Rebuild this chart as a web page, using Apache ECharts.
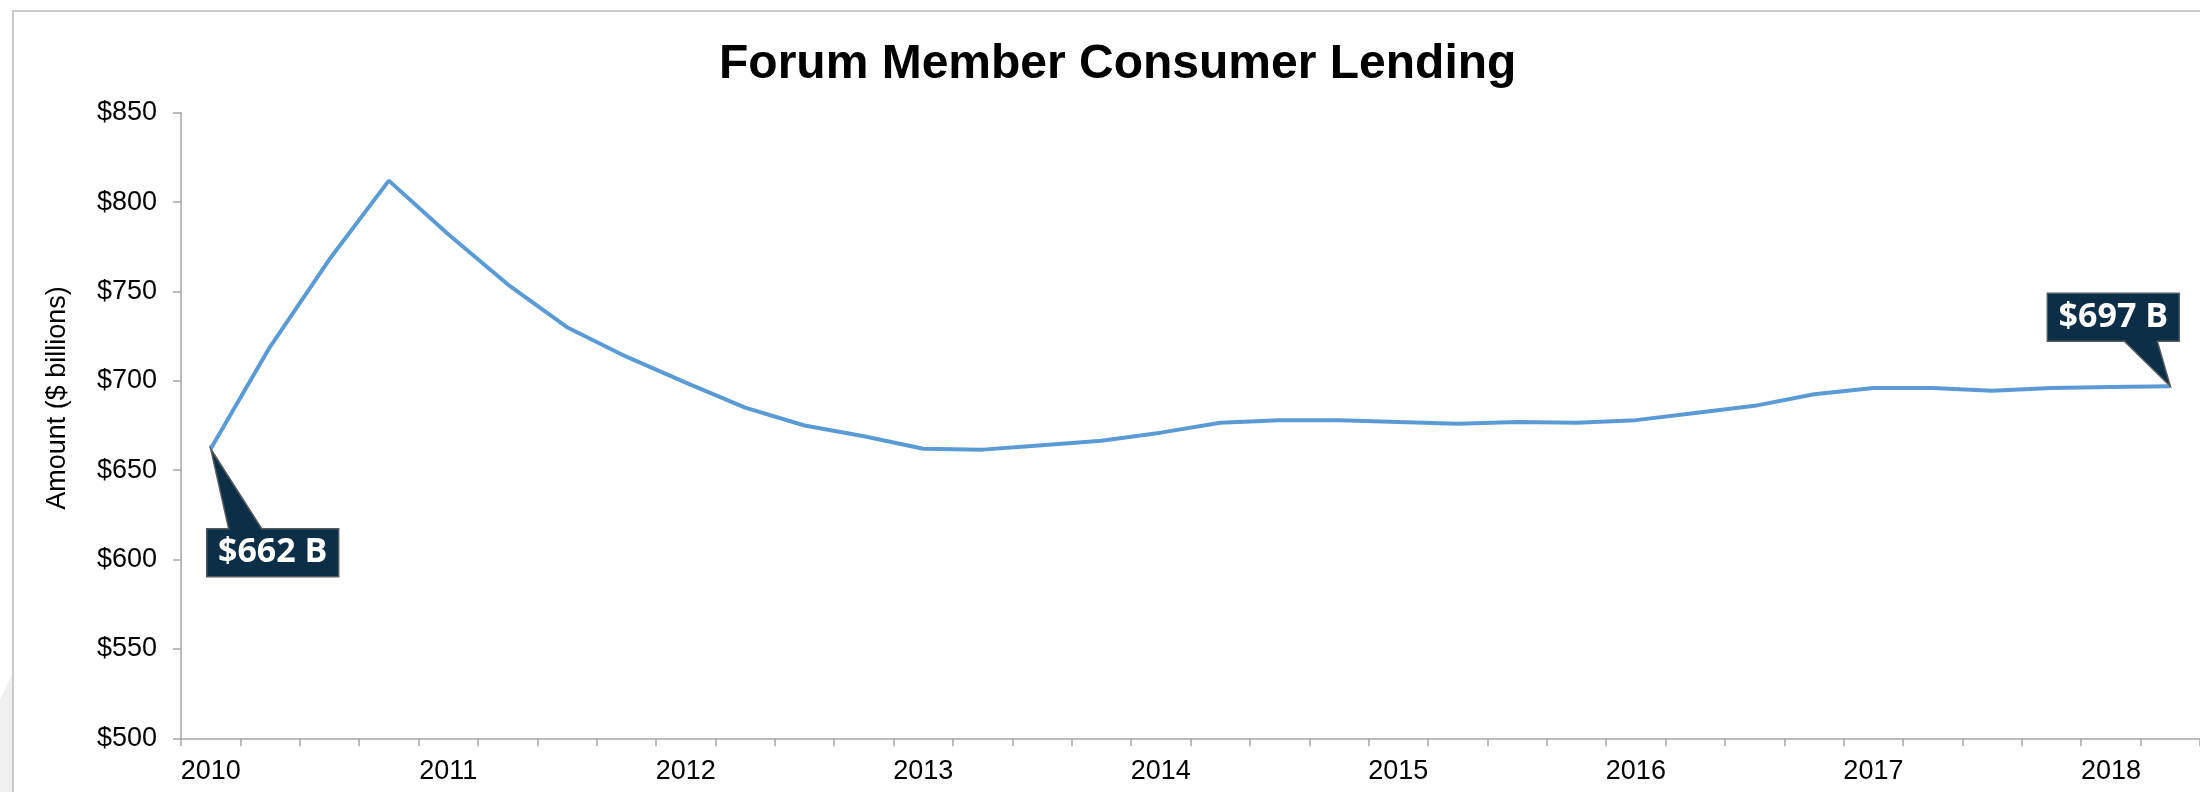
<!DOCTYPE html>
<html>
<head>
<meta charset="utf-8">
<script src="https://cdn.jsdelivr.net/npm/echarts@6/dist/echarts.min.js"></script>
<style>
  html, body { margin: 0; padding: 0; background: #fff; }
  #chart { width: 2200px; height: 792px; }
</style>
</head>
<body>
<div id="chart"></div>
<script>
const titleText = 'Forum Member Consumer Lending';
const yAxisTitle = 'Amount ($ billions)';
const categories = [
  '2010 Q1','2010 Q2','2010 Q3','2010 Q4',
  '2011 Q1','2011 Q2','2011 Q3','2011 Q4',
  '2012 Q1','2012 Q2','2012 Q3','2012 Q4',
  '2013 Q1','2013 Q2','2013 Q3','2013 Q4',
  '2014 Q1','2014 Q2','2014 Q3','2014 Q4',
  '2015 Q1','2015 Q2','2015 Q3','2015 Q4',
  '2016 Q1','2016 Q2','2016 Q3','2016 Q4',
  '2017 Q1','2017 Q2','2017 Q3','2017 Q4',
  '2018 Q1','2018 Q2'
];
const tickLabels = ['2010','2011','2012','2013','2014','2015','2016','2017','2018'];
const values = [
  662, 719, 768, 812,
  782, 754, 730, 713.5,
  699, 685, 675, 669,
  662, 661.5, 664, 666.5,
  671, 676.5, 678, 678,
  677, 676, 677, 676.5,
  678, 682, 686, 692.5,
  696, 696, 694.5, 696,
  696.5, 697
];
const yTicks = [500, 550, 600, 650, 700, 750, 800, 850];
const calloutIndex = [0, 33];
const calloutLabels = ['$662 B', '$697 B'];

const FONT = '"Liberation Sans", Arial, Helvetica, sans-serif';
const NAVY = '#0c2e46';

// callout shapes relative to the anchored data point
const calloutShapes = [
  { // below-right
    poly: [[0,0],[51,80],[128,80],[128,128],[-4,128],[-4,80],[18,80]],
    text: [62, 104]
  },
  { // above-left
    poly: [[0,0],[-13,-45],[9,-45],[9,-93],[-123,-93],[-123,-45],[-46,-45]],
    text: [-57, -69]
  }
];

const chart = echarts.init(document.getElementById('chart'), null, { renderer: 'canvas' });

chart.setOption({
  backgroundColor: '#ffffff',
  animation: false,
  title: {
    text: titleText,
    left: 719,
    top: 41,
    padding: 0,
    textStyle: { fontFamily: FONT, fontWeight: 'bold', fontSize: 48, color: '#000' }
  },
  graphic: [
    { type: 'polygon', z: -10, shape: { points: [[0,700],[13,672],[13,792],[0,792]] }, style: { fill: '#f0f0f0' } },
    { type: 'rect', z: -5, shape: { x: 13, y: 11, width: 2400, height: 1000 }, style: { fill: null, stroke: '#cacaca', lineWidth: 2 } },
    { type: 'text', x: 58, y: 398, rotation: Math.PI / 2,
      style: { text: yAxisTitle, font: '27px ' + FONT, fill: '#000', align: 'center', verticalAlign: 'middle' } }
  ],
  grid: { left: 181, right: -5.3, top: 112.7, bottom: 53.7, containLabel: false },
  xAxis: {
    type: 'category',
    data: categories,
    boundaryGap: true,
    axisLine: { lineStyle: { color: '#a6a6a6', width: 1.5 } },
    axisTick: { show: true, interval: 0, length: 8, inside: false, lineStyle: { color: '#a6a6a6', width: 1.5 } },
    axisLabel: {
      interval: 0,
      margin: 20,
      fontFamily: FONT, fontSize: 27, color: '#000',
      formatter: function (v, i) { return i % 4 === 0 ? tickLabels[i / 4] : ''; }
    },
    splitLine: { show: false }
  },
  yAxis: {
    type: 'value',
    min: yTicks[0],
    max: yTicks[yTicks.length - 1],
    interval: 50,
    axisLine: { show: true, lineStyle: { color: '#a6a6a6', width: 1.5 } },
    axisTick: { show: true, length: 8, lineStyle: { color: '#a6a6a6', width: 1.5 } },
    axisLabel: {
      margin: 24,
      fontFamily: FONT, fontSize: 27, color: '#000',
      formatter: function (v) { return '$' + v; }
    },
    splitLine: { show: false }
  },
  series: [
    {
      type: 'line',
      data: values,
      symbol: 'none',
      smooth: false,
      lineStyle: { color: '#5b9bd5', width: 4 },
      z: 3
    },
    {
      type: 'custom',
      z: 5,
      data: calloutIndex.map(function (i) { return [i, values[i]]; }),
      renderItem: function (params, api) {
        const pt = api.coord([api.value(0), api.value(1)]);
        const shp = calloutShapes[params.dataIndex];
        return {
          type: 'group',
          x: pt[0], y: pt[1],
          children: [
            { type: 'polygon', shape: { points: shp.poly },
              style: { fill: NAVY, stroke: '#555a5e', lineWidth: 1.5 } },
            { type: 'text', x: shp.text[0], y: shp.text[1],
              style: { text: calloutLabels[params.dataIndex], fill: '#ffffff',
                       font: 'bold 34px "Open Sans", "DejaVu Sans", sans-serif',
                       align: 'center', verticalAlign: 'middle' } }
          ]
        };
      }
    }
  ]
});
</script>
</body>
</html>
